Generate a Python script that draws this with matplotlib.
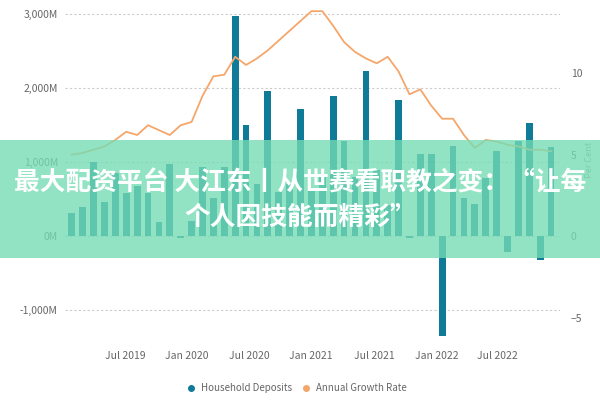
import matplotlib
matplotlib.use("Agg")
import matplotlib.pyplot as plt
from matplotlib.patches import Rectangle
from matplotlib.lines import Line2D

plt.rcParams['font.family'] = ['Noto Sans CJK SC', 'DejaVu Sans']

deposits = [320, 390, 1000, 460, 850, 590, 680, 590, 190, 980, -30, 210, 930, 520, 930,
            2970, 1500, 710, 1960, 600, 700, 1720, 650, 800, 1890, 1290, 800, 2230, 900,
            420, 1840, -20, 1110, 1110, -1350, 1220, 520, 430, 790, 1150, -210, 1290, 1530,
            -320, 1200]
growth = [5.0, 5.1, 5.3, 5.5, 5.9, 6.4, 6.2, 6.8, 6.5, 6.2, 6.8, 7.0, 8.6, 9.8, 9.9,
          11.0, 10.5, 10.9, 11.4, 12.0, 12.6, 13.2, 13.8, 13.8, 12.9, 11.9, 11.3, 10.9, 10.6,
          11.0, 10.1, 8.7, 9.0, 8.0, 7.2, 7.2, 6.2, 5.4, 5.9, 5.8, 5.6, 5.5, 5.3, 5.3, 5.2]
tick_pos = [4.95, 10.55, 16.3, 21.9, 27.8, 33.5, 39.1]
tick_labels = ["Jul 2019", "Jan 2020", "Jul 2020", "Jan 2021", "Jul 2021", "Jan 2022", "Jul 2022"]
left_ticks = [-1000, 0, 1000, 2000, 3000]
left_labels = ["-1,000M", "0M", "1,000M", "2,000M", "3,000M"]
right_ticks = [-5, 0, 5, 10]

bar_c = "#0f7b98"
line_c = "#f5a66b"
gray = "#666666"

fig = plt.figure(figsize=(6, 4), dpi=100)
ax = fig.add_axes([0.108, 0.141, 0.825, 0.8425])
x = list(range(len(deposits)))
ax.bar(x, deposits, width=0.62, color=bar_c, zorder=2)
ax.set_xlim(-0.64, 44.8)
ax.set_ylim(-1450, 3100)
ax.set_yticks(left_ticks)
ax.set_yticklabels(left_labels)
ax.set_xticks(tick_pos)
ax.set_xticklabels(tick_labels)
ax.grid(axis='y', color="#cccccc", linestyle=(0, (2, 2)), linewidth=0.8, zorder=0)
for s in ax.spines.values():
    s.set_visible(False)
ax.tick_params(length=0, labelsize=7.5, colors=gray, pad=5)

ax2 = ax.twinx()
ax2.plot(x, growth, color=line_c, linewidth=1.3, zorder=3)
ax2.set_ylim(-6.6, 14.08)
ax2.set_yticks(right_ticks)
for s in ax2.spines.values():
    s.set_visible(False)
ax2.tick_params(length=0, labelsize=7.5, colors=gray, pad=8)
fig.text(0.982, 0.6, "Per Cent", rotation=90, fontsize=6.5, color="#999999",
         ha='center', va='center')

handles = [Line2D([], [], marker='o', linestyle='', color=bar_c, markersize=4),
           Line2D([], [], marker='o', linestyle='', color=line_c, markersize=4)]
fig.legend(handles, ["Household Deposits", "Annual Growth Rate"], loc='center',
           bbox_to_anchor=(0.49, 0.03), ncol=2, frameon=False, fontsize=7,
           handletextpad=0.0, columnspacing=0.4, labelcolor=gray)

fig.patches.append(Rectangle((0, 1 - 258 / 400), 1, 118 / 400, transform=fig.transFigure,
                             facecolor="#74dcb4", alpha=0.78, edgecolor='none', zorder=10))
fig.text(0.5, 1 - 183 / 400, "最大配资平台 大江东丨从世赛看职教之变：“让每", ha='center', va='center',
         fontsize=18.5, fontweight='bold', color='white', zorder=11)
fig.text(0.5, 1 - 217 / 400, "个人因技能而精彩”", ha='center', va='center',
         fontsize=18.5, fontweight='bold', color='white', zorder=11)

fig.savefig("out.png", dpi=100)
